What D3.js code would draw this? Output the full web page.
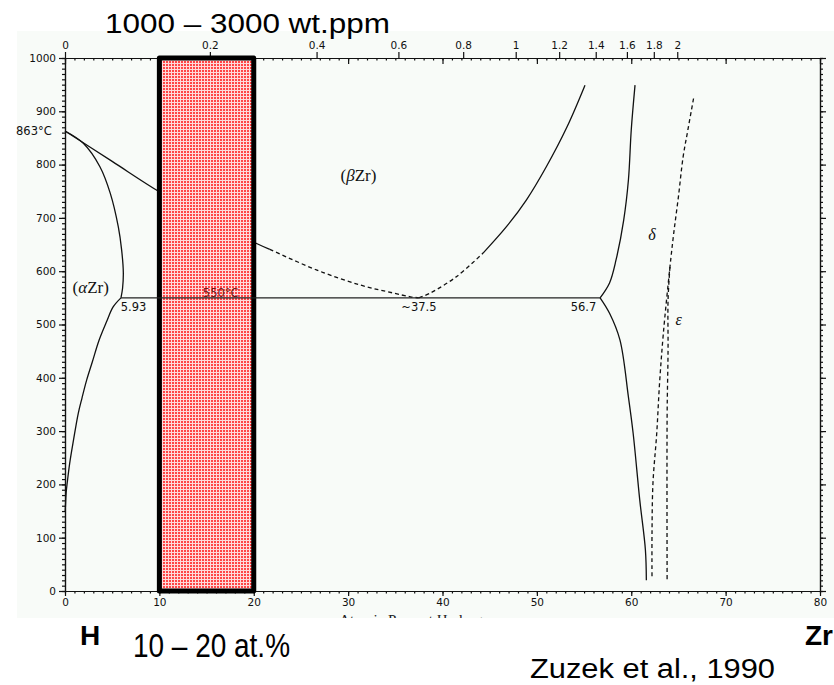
<!DOCTYPE html>
<html><head><meta charset="utf-8">
<script src="https://cdn.jsdelivr.net/npm/d3@7"></script>
<style>body{margin:0;background:#fff}svg{display:block}</style>
</head><body><svg id="c" width="834" height="685"></svg>
<script>
// ---- data (at.% H, °C) ----
const atTicks = [0, 10, 20, 30, 40, 50, 60, 70, 80];
const tempTicks = [0, 100, 200, 300, 400, 500, 600, 700, 800, 900, 1000];
const wtTicks = [0, 0.2, 0.4, 0.6, 0.8, 1, 1.2, 1.4, 1.6, 1.8, 2];
const wtLabels = ["0", "0.2", "0.4", "0.6", "0.8", "1", "1.2", "1.4", "1.6", "1.8", "2"];

const alphaSolvusUpper = [[0,863],[1.94,840],[3.7,796],[4.8,746],[5.65,683],[6.0,640],[6.18,597],[6.1,568],[5.93,550]];
const alphaSolvusLower = [[5.93,550],[5.1,533],[4.4,505],[3.6,470],[2.9,430],[2.3,396],[1.8,362],[1.4,333],[0.9,283],[0.5,240],[0.25,205],[0.12,184],[0.05,160],[0.02,150]];
const betaAlphaSolid = [[0,863],[5,806],[10,749],[15,700],[20.3,652],[21.7,641]];
const betaAlphaDashed = [[21.7,641],[26.7,602],[31.3,574],[34.8,559],[36.6,552],[37.5,550]];
const betaDeltaDashed = [[37.5,550],[38.7,559],[41.5,590],[44.3,634]];
const betaDeltaSolid = [[44.3,634],[46.8,684],[48.9,734],[51.0,796],[53.2,871],[55.1,949]];
const eutectoid = [[5.93,550],[56.7,550]];
const deltaUpper = [[56.7,550],[57.7,578],[58.4,622],[59.2,696],[59.7,771],[60.0,865],[60.4,949]];
const deltaLower = [[56.7,550],[57.7,521],[58.8,471],[59.7,364],[60.2,296],[60.9,171],[61.5,77],[61.6,20]];
const deltaEpsilon = [[66.6,924],[66.0,865],[65.5,815],[65.0,740],[64.5,671],[64.1,608],[63.4,483],[63.0,390],[62.7,296],[62.3,202],[62.2,108],[62.2,22]];
const epsilonBound = [[64.1,608],[63.9,546],[63.9,452],[63.8,327],[63.8,22]];
const boxRange = [10, 20];

const labels = [
  {t:"863°C", x:-1.4, y:863, anchor:"end", size:11.5, dy:4},
  {t:"5.93", x:5.9, y:550, anchor:"start", size:11.5, dy:13},
  {t:"550°C", x:16.5, y:550, anchor:"middle", size:11.5, dy:-1, fill:"#6b1b1b"},
  {t:"~37.5", x:37.5, y:550, anchor:"middle", size:11.5, dy:13},
  {t:"56.7", x:56.3, y:550, anchor:"end", size:11.5, dy:13}
];

const svg = d3.select("#c");
const W = 834, H = 685;
const x = d3.scaleLinear().domain([0, 80]).range([65, 820]);
const y = d3.scaleLinear().domain([0, 1000]).range([591, 58]);
// weight-% H -> atomic-% H conversion (H = 1.008, Zr = 91.224)
const atFromWt = w => { const f = w / 100; return 100 * (f / 1.008) / (f / 1.008 + (1 - f) / 91.224); };

// background of the scanned diagram
svg.append("rect").attr("x", 17).attr("y", 31).attr("width", W - 17).attr("height", 618 - 31).attr("fill", "#f8fbf8");

// hidden axis title (mostly covered)
svg.append("text").attr("x", 418).attr("y", 625).attr("text-anchor", "middle")
  .attr("font-family", "Liberation Serif, serif").attr("font-size", 15).attr("fill", "#222")
  .text("Atomic Percent Hydrogen");

const defs = svg.append("defs");
const pat = defs.append("pattern").attr("id", "hatch").attr("patternUnits", "userSpaceOnUse")
  .attr("x", 0).attr("y", 0).attr("width", 3).attr("height", 3);
pat.append("rect").attr("width", 3).attr("height", 3).attr("fill", "#ff4646");
pat.append("rect").attr("x", 0).attr("y", 0).attr("width", 3).attr("height", 1).attr("fill", "#ffffff").attr("fill-opacity", 0.8).attr("shape-rendering", "crispEdges");
pat.append("rect").attr("x", 0).attr("y", 1).attr("width", 1).attr("height", 2).attr("fill", "#ffffff").attr("fill-opacity", 0.8).attr("shape-rendering", "crispEdges");

const font = "DejaVu Sans, sans-serif";
const line = d3.line().x(d => x(d[0])).y(d => y(d[1])).curve(d3.curveCatmullRom.alpha(0.5));

// ---- axes ----
svg.append("g").attr("transform", `translate(0,${y(0)})`)
  .call(d3.axisBottom(x).tickValues(atTicks).tickSize(5).tickSizeOuter(0).tickFormat(d3.format("d")));
svg.append("g").attr("transform", `translate(0,${y(0)})`)
  .call(d3.axisBottom(x).tickValues(d3.range(0, 81, 1)).tickSize(2.5).tickSizeOuter(0).tickFormat(""));
svg.append("g").attr("transform", `translate(${x(0)},0)`)
  .call(d3.axisLeft(y).tickValues(tempTicks).tickSize(6).tickSizeOuter(0).tickFormat(d3.format("d")));
svg.append("g").attr("transform", `translate(${x(0)},0)`)
  .call(d3.axisLeft(y).tickValues(d3.range(0, 1001, 10)).tickSize(3).tickSizeOuter(0).tickFormat(""));
svg.append("g").attr("transform", `translate(${x(80)},0)`)
  .call(d3.axisRight(y).tickValues(tempTicks).tickSize(6).tickSizeOuter(0).tickFormat(""));
svg.append("g").attr("transform", `translate(${x(80)},0)`)
  .call(d3.axisRight(y).tickValues(d3.range(0, 1001, 10)).tickSize(3).tickSizeOuter(0).tickFormat(""));
svg.append("g").attr("transform", `translate(0,${y(1000)})`)
  .call(d3.axisBottom(x).tickValues(atTicks).tickSize(6).tickSizeOuter(0).tickFormat(""));
svg.append("g").attr("transform", `translate(0,${y(1000)})`)
  .call(d3.axisBottom(x).tickValues(d3.range(0, 81, 1)).tickSize(2.5).tickSizeOuter(0).tickFormat(""));
svg.append("g").attr("transform", `translate(0,${y(1000)})`)
  .call(d3.axisTop(x).tickValues(wtTicks.map(atFromWt)).tickSize(6).tickSizeOuter(0)
    .tickFormat((d, i) => wtLabels[i]));

svg.selectAll(".tick text").attr("font-family", font).attr("font-size", 10.5).attr("fill", "#111");
svg.selectAll(".domain, .tick line").attr("stroke", "#111").attr("stroke-width", 1.2);

// ---- phase boundaries ----
const solid = [alphaSolvusUpper, alphaSolvusLower, betaAlphaSolid, betaDeltaSolid, deltaUpper, deltaLower];
const dashed = [betaAlphaDashed, betaDeltaDashed, deltaEpsilon, epsilonBound];
svg.append("g").selectAll("path").data(solid).join("path")
  .attr("d", line).attr("fill", "none").attr("stroke", "#111").attr("stroke-width", 1.3);
svg.append("g").selectAll("path").data(dashed).join("path")
  .attr("d", line).attr("fill", "none").attr("stroke", "#111").attr("stroke-width", 1.3).attr("stroke-dasharray", "4,3");

// ---- highlighted composition band ----
const bx0 = x(boxRange[0]), bx1 = x(boxRange[1]);
svg.append("rect")
  .attr("x", bx0).attr("y", y(1000)).attr("width", bx1 - bx0).attr("height", y(0) - y(1000))
  .attr("fill", "url(#hatch)");
svg.append("rect")
  .attr("x", bx0).attr("y", y(1000)).attr("width", bx1 - bx0).attr("height", y(0) - y(1000))
  .attr("fill", "none").attr("stroke", "#000").attr("stroke-width", 5).attr("stroke-linejoin", "round");

// eutectoid isotherm (over the band)
svg.append("path").datum(eutectoid).attr("d", d3.line().x(d => x(d[0])).y(d => y(d[1])))
  .attr("fill", "none").attr("stroke", "#222").attr("stroke-width", 1.4);

// small labels
svg.append("g").selectAll("text").data(labels).join("text")
  .attr("x", d => x(d.x)).attr("y", d => y(d.y) + d.dy).attr("text-anchor", d => d.anchor)
  .attr("font-family", font).attr("font-size", d => d.size).attr("fill", d => d.fill || "#111").text(d => d.t);

// phase labels
const phase = (px, py, parts, size) => {
  const t = svg.append("text").attr("x", x(px)).attr("y", y(py)).attr("font-family", "Liberation Serif, serif")
    .attr("font-size", size).attr("fill", "#111");
  parts.forEach(p => t.append("tspan").attr("font-style", p[1] ? "italic" : "normal").text(p[0]));
};
phase(0.8, 560, [["(", 0], ["α", 1], ["Zr)", 0]], 17);
phase(29.2, 770, [["(", 0], ["β", 1], ["Zr)", 0]], 17);
phase(61.8, 658, [["δ", 1]], 16);
phase(64.7, 499, [["ε", 1]], 16);

// white cover below the scanned diagram
svg.append("rect").attr("x", 0).attr("y", 618).attr("width", W).attr("height", H - 618).attr("fill", "#fff");

// ---- overlay annotations ----
const narrow = "Liberation Sans Narrow, Liberation Sans, Arial, sans-serif";
const ann = (t, px, py, size, opts = {}) => {
  const e = svg.append("text").attr("x", px).attr("y", py)
    .attr("font-family", opts.family || "Liberation Sans, Arial, sans-serif")
    .attr("font-size", size).attr("font-weight", opts.bold ? "bold" : "normal")
    .attr("text-anchor", opts.anchor || "start").attr("fill", "#000").text(t);
  if (opts.len) e.attr("textLength", opts.len).attr("lengthAdjust", "spacingAndGlyphs");
};
ann("1000 – 3000 wt.ppm", 105, 33, 27, {len: 285});
ann("10 – 20 at.%", 133, 657, 33, {family: narrow, len: 157});
ann("H", 80, 645, 28, {bold: true, family: narrow});
ann("Zr", 833, 645, 28, {bold: true, anchor: "end", family: narrow});
ann("Zuzek et al., 1990", 530, 678, 27, {family: narrow, len: 245});
</script></body></html>
